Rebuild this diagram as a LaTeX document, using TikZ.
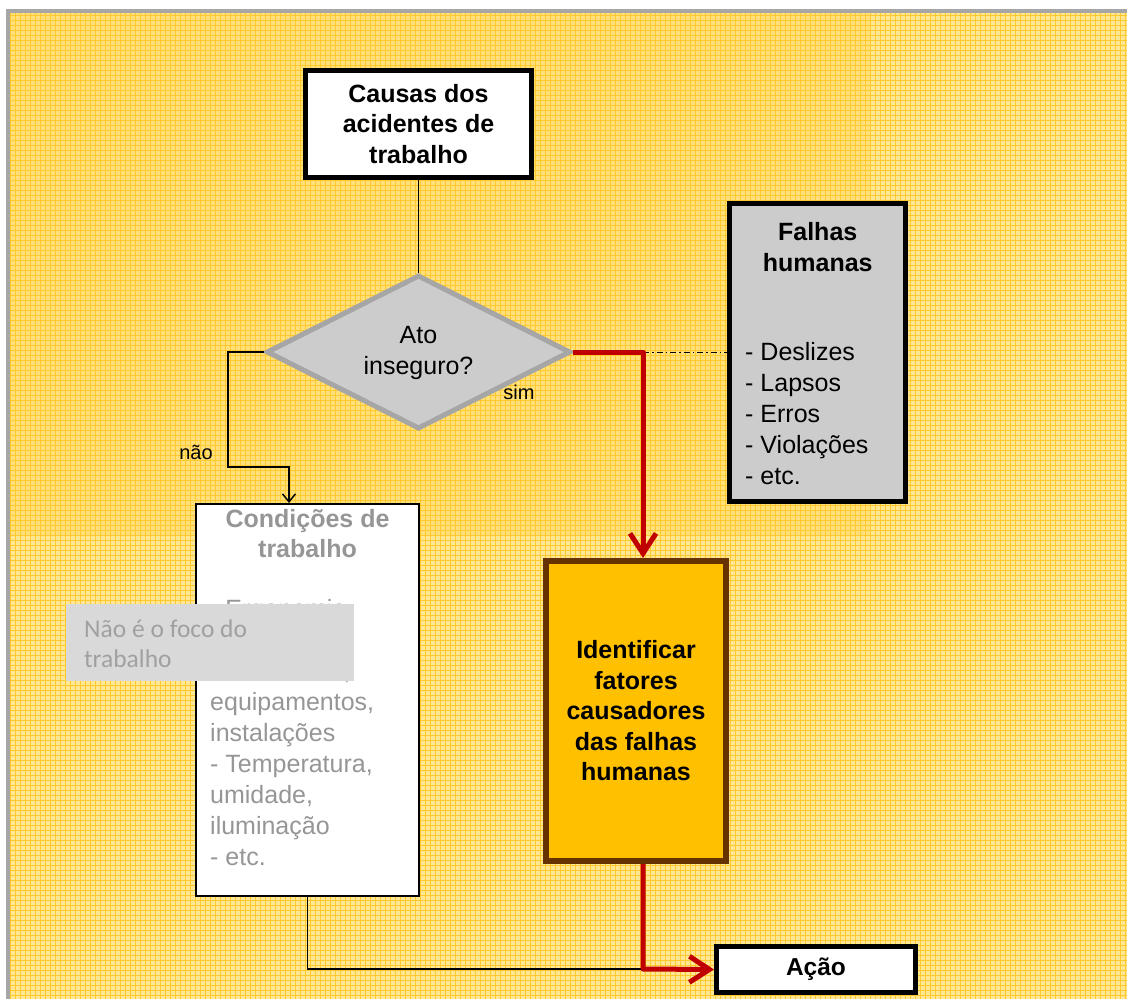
\documentclass[tikz,border=0pt]{standalone}
\usepackage{fontspec}
\setmainfont{Liberation Sans}
\newfontfamily\calib{Carlito}
\usetikzlibrary{shapes.geometric,arrows.meta,calc}

\definecolor{cellA}{RGB}{255,224,122}
\definecolor{cellB}{RGB}{255,231,148}
\definecolor{gridc}{RGB}{255,200,45}
\definecolor{frameg}{RGB}{166,166,166}
\definecolor{boxgray}{RGB}{204,204,204}
\definecolor{redline}{RGB}{192,0,0}
\definecolor{orangefill}{RGB}{255,192,0}
\definecolor{brownline}{RGB}{102,51,0}
\definecolor{fadedtxt}{RGB}{150,150,150}
\definecolor{notefill}{RGB}{217,217,217}
\definecolor{notetxt}{RGB}{160,160,160}

\begin{document}
\begin{tikzpicture}[x=1pt,y=-1pt,
  titlefont/.style={font=\fontsize{25}{30.5}\selectfont\bfseries},
  bodyfont/.style={font=\fontsize{25}{31}\selectfont},
  labelfont/.style={font=\fontsize{20}{24}\selectfont},
  heavybox/.style={draw=black, line width=5pt, inner sep=0pt},
  thinline/.style={draw=black, line width=1.5pt},
  redpath/.style={draw=redline, line width=5pt, line join=round},
  dashdotline/.style={draw=black, line width=1pt, dash pattern=on 6pt off 3pt on 1.5pt off 3pt},
  smalltip/.style={-{Straight Barb[length=8pt,width=13pt]}},
  bigtip/.style={-{Straight Barb[length=20pt,width=26pt]}}]

\useasboundingbox (0,0) rectangle (1127,999);
\clip (0,0) rectangle (1127,999);

% page background: squared paper in two tones, framed in gray
\fill[white] (0,0) rectangle (1127,999);
\fill[cellB] (10,12) rectangle (1127,999);
\fill[cellA] (10,12) rectangle (870,535);
\draw[gridc, line width=1pt] (10,12) grid[step=5pt] (1127,999);
\draw[frameg, line width=4pt] (8,999) -- (8,10.5) -- (1127,10.5);

% boxes
\node[heavybox, fill=white, minimum width=226pt, minimum height=107pt,
      titlefont, align=center] (causas) at (418.5,124) {Causas dos\\acidentes de\\trabalho};

\node[diamond, draw=frameg, fill=boxgray, line width=5pt, inner sep=0pt,
      minimum width=304pt, minimum height=154pt] (ato) at (418.5,352) {};
\node[bodyfont, align=center] (atotext) at (418.5,353) {Ato\\inseguro?};

\node[heavybox, fill=boxgray, minimum width=175.5pt, minimum height=298pt] (falhas) at (817.7,352) {};
\node[titlefont, align=center] (falhastitle) at (817.7,247) {Falhas\\humanas};
\node[bodyfont, align=left, anchor=west, inner sep=0pt] (falhaslist) at (745,414)
  {- Deslizes\\- Lapsos\\- Erros\\- Violações\\- etc.};

\node[draw=black, line width=2pt, fill=white, minimum width=223pt, minimum height=392pt] (cond) at (307.5,700) {};
\node[titlefont, align=center, text=fadedtxt] (condtitle) at (307.5,533.5) {Condições de\\trabalho};
\node[bodyfont, align=left, anchor=west, inner sep=0pt, text=fadedtxt] (condlist) at (210,733)
  {- Ergonomia\\- Máquinas,\\ferramentas,\\equipamentos,\\instalações\\- Temperatura,\\umidade,\\iluminação\\- etc.};

\node[fill=notefill, minimum width=288pt, minimum height=77pt, inner sep=0pt] (nota) at (210,642.5) {};
\node[font=\calib\fontsize{25.5}{30}\selectfont, text=notetxt, align=left, anchor=west, inner sep=0pt]
  (notatext) at (84,644) {Não é o foco do\\trabalho};

\node[draw=brownline, line width=6pt, fill=orangefill, minimum width=180pt, minimum height=300pt,
      titlefont, align=center] (ident) at (636,711)
  {Identificar\\fatores\\causadores\\das falhas\\humanas};

\node[heavybox, fill=white, minimum width=199pt, minimum height=46pt,
      font=\fontsize{24.5}{29}\selectfont\bfseries] (acao) at (816,969.5) {Ação};

% connectors
\coordinate (nobend) at (228,352);
\coordinate (nodrop) at (289,467);
\coordinate (yesbend) at (643,352);
\coordinate (join) at (643,969);

\draw[thinline] (causas.south) -- (causas.south |- ato.north);
\draw[thinline, smalltip] (ato.west) -- (nobend) |- (nodrop) -- (nodrop |- cond.north);
\draw[dashdotline] (yesbend) -- (falhas.west);
\draw[redpath, bigtip] (ato.east) -- (yesbend) -- (yesbend |- ident.north);
\draw[thinline] (cond.south) |- (join);
\draw[redpath, bigtip] (ident.south -| yesbend) -- (join) -- (acao.west);

% branch labels
\node[labelfont] (simlabel) at (519,392) {sim};
\node[labelfont] (naolabel) at (196,452) {não};

\end{tikzpicture}
\end{document}
